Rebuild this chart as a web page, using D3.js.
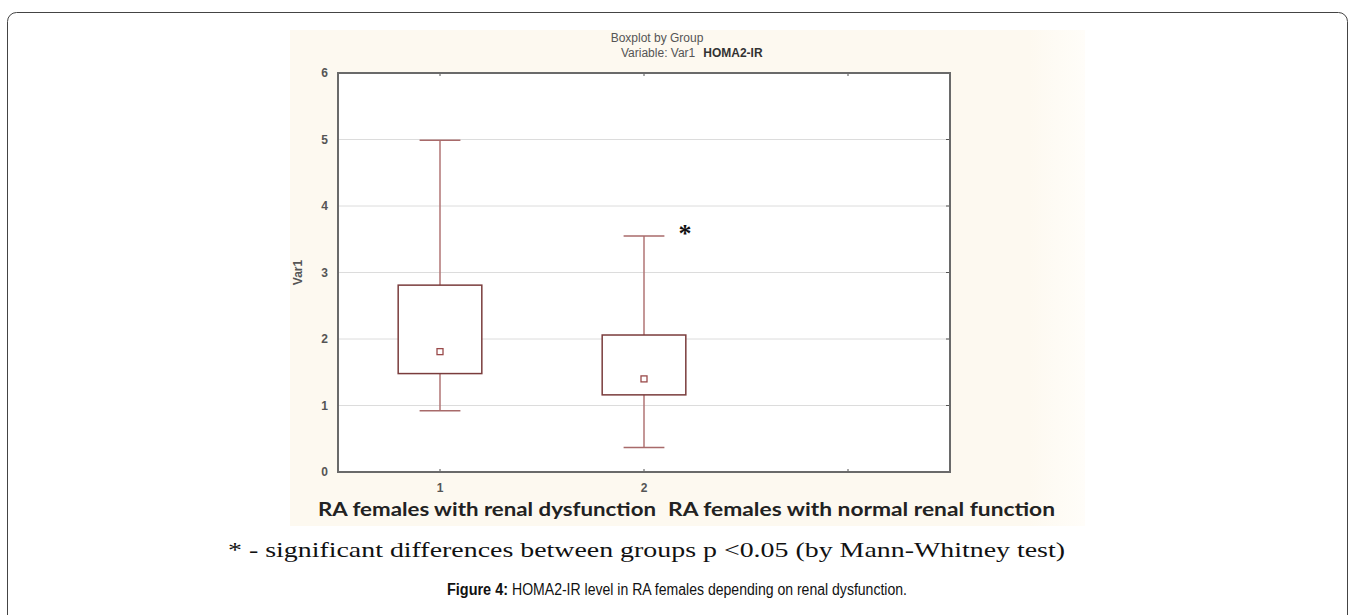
<!DOCTYPE html>
<html lang="en">
<head>
<meta charset="UTF-8">
<title>HOMA2-IR Boxplot</title>
<script src="https://d3js.org/d3.v7.min.js"></script>
<style>
  body { margin: 0; background: #fff; }
  .tick-label { font-family: Arial, "Liberation Sans", sans-serif; font-size: 12px; fill: #555; font-weight: bold; }
</style>
</head>
<body>
<div id="chart"></div>
<script>
// data
const groups = ["1", "2", ""];
const groupNames = ["RA females with renal dysfunction", "RA females with normal renal function"];
const whiskerLow = [0.92, 0.37];
const boxLow = [1.48, 1.16];
const medians = [1.81, 1.40];
const boxHigh = [2.81, 2.06];
const whiskerHigh = [4.99, 3.55];
const yTicks = [0, 1, 2, 3, 4, 5, 6];
const starGroup = "2";

const W = 1355, H = 615;
const svg = d3.select("#chart").append("svg").attr("width", W).attr("height", H);

// outer frame of the page
svg.append("rect").attr("x", 7.5).attr("y", 12.5).attr("width", 1340).attr("height", 640)
  .attr("rx", 9).attr("fill", "none").attr("stroke", "#444").attr("stroke-width", 1);

// cream background of the image
const bg = svg.append("defs").append("linearGradient").attr("id", "cream")
  .attr("x1", "0").attr("x2", "1");
bg.append("stop").attr("offset", "0.93").attr("stop-color", "#fdf9f0");
bg.append("stop").attr("offset", "1").attr("stop-color", "#fffdf9");
svg.append("rect").attr("x", 290).attr("y", 30).attr("width", 795).attr("height", 496).attr("fill", "url(#cream)");

const pLeft = 338, pRight = 950, pTop = 73, pBottom = 472;

const x = d3.scaleBand().domain(groups).range([pLeft, pRight]);
const y = d3.scaleLinear().domain([0, 6]).range([pBottom, pTop]);

svg.append("rect").attr("x", pLeft).attr("y", pTop).attr("width", pRight - pLeft).attr("height", pBottom - pTop)
  .attr("fill", "#fff");

// grid
svg.append("g").selectAll("line").data(yTicks.filter(d => d > 0 && d < 6)).enter().append("line")
  .attr("x1", pLeft).attr("x2", pRight)
  .attr("y1", d => y(d)).attr("y2", d => y(d))
  .attr("stroke", "#dcdcdc").attr("stroke-width", 1);

// y ticks and labels
svg.append("g").selectAll("text").data(yTicks).enter().append("text")
  .attr("class", "tick-label")
  .attr("x", pLeft - 10).attr("y", d => y(d) + 4)
  .attr("text-anchor", "end").text(d => d);
svg.append("g").selectAll("line").data(yTicks).enter().append("line")
  .attr("x1", pRight - 4).attr("x2", pRight)
  .attr("y1", d => y(d)).attr("y2", d => y(d))
  .attr("stroke", "#555");

// x ticks
svg.append("g").selectAll("line").data(groups).enter().append("line")
  .attr("x1", d => x(d) + x.bandwidth() / 2).attr("x2", d => x(d) + x.bandwidth() / 2)
  .attr("y1", pBottom).attr("y2", pBottom - 3).attr("stroke", "#555");
svg.append("g").selectAll("line").data(groups).enter().append("line")
  .attr("x1", d => x(d) + x.bandwidth() / 2).attr("x2", d => x(d) + x.bandwidth() / 2)
  .attr("y1", pTop).attr("y2", pTop + 3).attr("stroke", "#555");
svg.append("g").selectAll("text").data(groups).enter().append("text")
  .attr("class", "tick-label")
  .attr("x", d => x(d) + x.bandwidth() / 2).attr("y", pBottom + 20)
  .attr("text-anchor", "middle").text(d => d);

// boxes
const boxW = x.bandwidth() * 0.41, capW = x.bandwidth() * 0.2;
const boxes = svg.append("g").selectAll("g").data(groups.slice(0, 2)).enter().append("g");
boxes.append("line")
  .attr("x1", d => x(d) + x.bandwidth() / 2).attr("x2", d => x(d) + x.bandwidth() / 2)
  .attr("y1", (d, i) => y(whiskerHigh[i])).attr("y2", (d, i) => y(whiskerLow[i]))
  .attr("stroke", "#b07474").attr("stroke-width", 1.5);
[whiskerHigh, whiskerLow].forEach(arr => {
  boxes.append("line")
    .attr("x1", d => x(d) + x.bandwidth() / 2 - capW / 2).attr("x2", d => x(d) + x.bandwidth() / 2 + capW / 2)
    .attr("y1", (d, i) => y(arr[i])).attr("y2", (d, i) => y(arr[i]))
    .attr("stroke", "#a86a6a").attr("stroke-width", 1.5);
});
boxes.append("rect")
  .attr("x", d => x(d) + x.bandwidth() / 2 - boxW / 2).attr("width", boxW)
  .attr("y", (d, i) => y(boxHigh[i])).attr("height", (d, i) => y(boxLow[i]) - y(boxHigh[i]))
  .attr("fill", "#fff").attr("stroke", "#7a3c3c").attr("stroke-width", 1.5);
boxes.append("rect")
  .attr("x", d => x(d) + x.bandwidth() / 2 - 3).attr("width", 6)
  .attr("y", (d, i) => y(medians[i]) - 3).attr("height", 6)
  .attr("fill", "#fff").attr("stroke", "#9a4a4a").attr("stroke-width", 1.3);

// significance star
const si = groups.indexOf(starGroup);
svg.append("text")
  .attr("x", x(starGroup) + x.bandwidth() / 2 + capW / 2 + 14)
  .attr("y", y(whiskerHigh[si]) + 6)
  .attr("font-family", "'Liberation Serif', serif").attr("font-size", 26).attr("font-weight", "bold")
  .attr("fill", "#111").text("*");

// frame
svg.append("rect").attr("x", pLeft).attr("y", pTop).attr("width", pRight - pLeft).attr("height", pBottom - pTop)
  .attr("fill", "none").attr("stroke", "#6a6a6a").attr("stroke-width", 2);

// titles
svg.append("text").attr("x", 657).attr("y", 42).attr("text-anchor", "middle")
  .attr("font-family", "Arial, sans-serif").attr("font-size", 12).attr("fill", "#555")
  .text("Boxplot by Group");
const t2 = svg.append("text").attr("x", 621).attr("y", 57)
  .attr("font-family", "Arial, sans-serif").attr("font-size", 12).attr("fill", "#555");
t2.append("tspan").text("Variable: Var1");
t2.append("tspan").attr("font-weight", "bold").attr("fill", "#333").attr("dx", 8).text("HOMA2-IR");

// y axis title
svg.append("text").attr("transform", `translate(302,${y(3)}) rotate(-90)`)
  .attr("text-anchor", "middle")
  .attr("font-family", "Arial, sans-serif").attr("font-size", 12).attr("font-weight", "bold").attr("fill", "#555")
  .text("Var1");

// group names
svg.append("text").attr("x", 318).attr("y", 516)
  .attr("font-family", "Lato, 'Open Sans', sans-serif").attr("font-size", 18).attr("font-weight", "bold").attr("fill", "#222")
  .attr("textLength", 338).attr("lengthAdjust", "spacingAndGlyphs").text(groupNames[0]);
svg.append("text").attr("x", 668).attr("y", 516)
  .attr("font-family", "Lato, 'Open Sans', sans-serif").attr("font-size", 18).attr("font-weight", "bold").attr("fill", "#222")
  .attr("textLength", 387).attr("lengthAdjust", "spacingAndGlyphs").text(groupNames[1]);

// footnote and caption
svg.append("text").attr("x", 228).attr("y", 557)
  .attr("font-family", "'Times New Roman', 'Liberation Serif', Times, serif").attr("font-size", 22).attr("fill", "#111")
  .attr("textLength", 837).attr("lengthAdjust", "spacingAndGlyphs")
  .text("* - significant differences between groups p <0.05 (by Mann-Whitney test)");
svg.append("text").attr("x", 447).attr("y", 595)
  .attr("font-family", "'Liberation Sans Narrow', 'Liberation Sans', Arial, sans-serif").attr("font-size", 16)
  .attr("font-weight", "bold").attr("fill", "#111")
  .attr("textLength", 61).attr("lengthAdjust", "spacingAndGlyphs").text("Figure 4:");
svg.append("text").attr("x", 512).attr("y", 595)
  .attr("font-family", "'Liberation Sans Narrow', 'Liberation Sans', Arial, sans-serif").attr("font-size", 16).attr("fill", "#111")
  .attr("textLength", 395).attr("lengthAdjust", "spacingAndGlyphs")
  .text("HOMA2-IR level in RA females depending on renal dysfunction.");
</script>
</body>
</html>
